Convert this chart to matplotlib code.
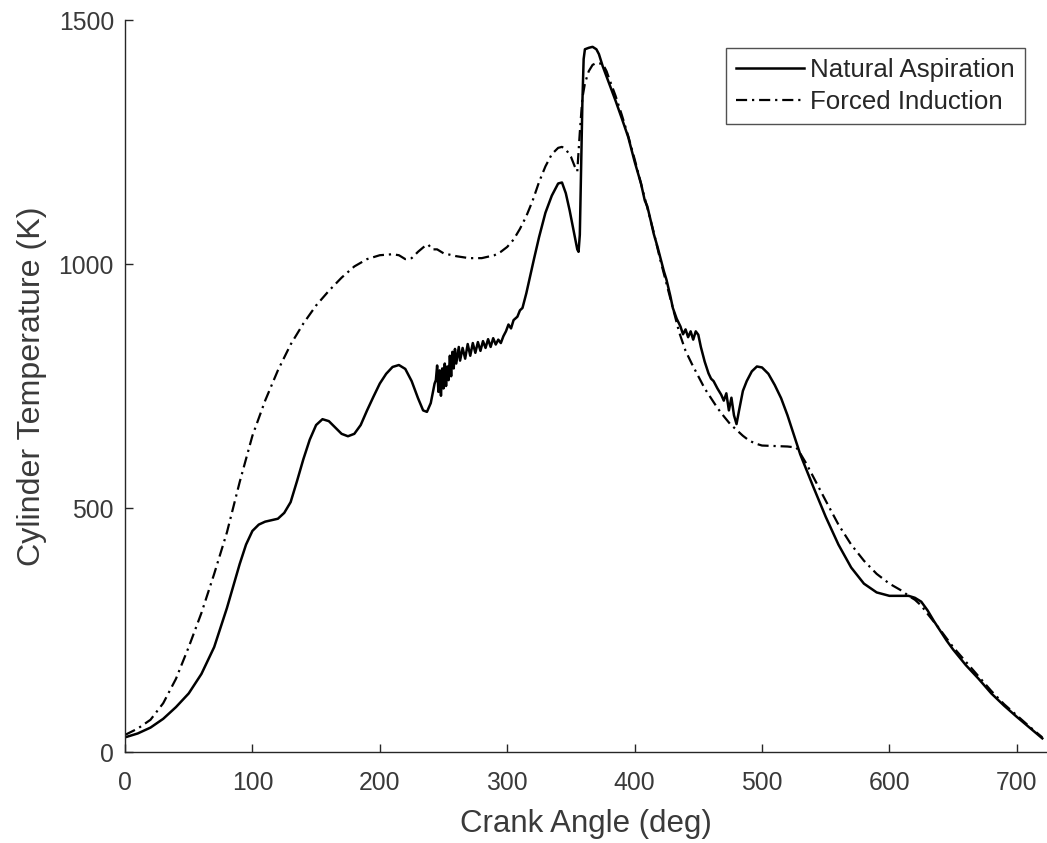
import matplotlib
matplotlib.use("Agg")
import matplotlib.pyplot as plt

# ---- data ----
crank_na = [0, 10, 20, 30, 40, 50, 60, 70, 80, 90, 95, 100, 105, 110, 115, 120, 125, 130, 135, 140,
            145, 150, 155, 160, 165, 170, 175, 180, 185, 190, 195, 200, 205, 210, 215, 220, 225, 230,
            234, 237, 240, 243,
            244, 245, 246, 247, 248, 249, 250, 251, 252, 253, 254, 255, 256, 257, 258, 259, 260,
            262, 263, 265, 267, 269, 271, 273, 275, 277, 279, 281, 283, 285, 287, 289, 291, 293,
            295, 297, 299, 301, 303, 305, 308, 310, 312, 315, 318, 321, 325, 330, 335, 340, 343,
            346, 349, 352, 355, 356, 357, 358, 359, 360, 361, 364, 367, 370, 372, 375, 380, 385,
            390, 395, 400, 405, 408, 410, 413, 415, 418, 420, 423, 425, 428, 430, 433, 436, 438,
            440, 442, 444, 446, 448, 450, 452, 455, 458, 460, 462, 465, 468, 470, 472, 474, 476,
            478, 480, 482, 485, 488, 492, 496, 500, 505, 510, 515, 520, 525, 530, 540, 550, 560,
            570, 580, 590, 600, 610, 615, 620, 625, 630, 635, 640, 645, 650, 660, 670, 680, 690,
            700, 710, 720]
temp_na = [30, 38, 50, 68, 92, 120, 160, 215, 295, 385, 425, 453, 466, 472, 475, 478, 490, 512, 555, 600,
           640, 670, 682, 678, 665, 652, 647, 652, 670, 700, 728, 755, 775, 789, 793, 785, 760, 725,
           700, 697, 715, 755,
           762, 792, 738, 782, 730, 786, 745, 796, 750, 790, 762, 812, 770, 820, 786, 826, 796,
           830, 802, 828, 806, 836, 812, 838, 818, 840, 822, 842, 828, 846, 830, 848, 835, 845,
           838, 852, 862, 876, 868, 885, 892, 905, 910, 940, 975, 1010, 1055, 1105, 1140, 1165, 1167,
           1145, 1110, 1070, 1030, 1025, 1060, 1200, 1330, 1420, 1440, 1443, 1445, 1440, 1430, 1405, 1370, 1335,
           1298, 1260, 1210, 1165, 1130, 1118, 1085, 1062, 1035, 1015, 985, 968, 935, 910, 888, 872, 856,
           866, 850, 862, 845, 862, 855, 830, 800, 776, 765, 760, 745, 732, 720, 735, 700, 726,
           690, 672, 700, 740, 760, 780, 790, 788, 775, 752, 725, 690, 650, 610, 545, 482, 425,
           378, 345, 327, 320, 320, 320, 316, 308, 290, 268, 248, 228, 210, 178, 150, 120, 95,
           72, 50, 28]

crank_fi = [0, 10, 20, 30, 40, 50, 60, 70, 80, 90, 100, 110, 120, 130, 140, 150, 160, 170, 180, 190,
            200, 210, 215, 220, 225, 230, 235, 238, 241, 245, 250, 260, 270, 280, 290, 295, 300, 305,
            310, 315, 320, 325, 330, 335, 340, 343, 346, 350, 353, 355, 357, 359, 361, 364, 367,
            370, 375, 378, 380, 385, 390, 395, 400, 405, 410, 415, 420, 425, 430, 435, 440, 445,
            450, 455, 460, 465, 470, 475, 480, 485, 490, 495, 500, 510, 520, 527, 530, 535, 540,
            550, 560, 570, 580, 590, 600, 610, 615, 620, 625, 630, 640, 650, 660, 670, 680, 690,
            700, 710, 720]
temp_fi = [35, 48, 66, 100, 150, 215, 285, 365, 450, 553, 648, 720, 782, 835, 878, 915, 945, 972, 995, 1010,
           1018, 1020, 1018, 1010, 1012, 1025, 1036, 1040, 1030, 1030, 1022, 1016, 1012, 1012, 1018, 1025, 1035, 1050,
           1072, 1098, 1130, 1168, 1200, 1225, 1238, 1240, 1235, 1220, 1200, 1190, 1270, 1340, 1370, 1395, 1408,
           1412, 1410, 1395, 1380, 1345, 1305, 1262, 1215, 1165, 1115, 1065, 1010, 960, 910, 860, 822, 795,
           770, 745, 725, 705, 688, 672, 660, 648, 638, 632, 628, 627, 626, 624, 612, 590, 565,
           515, 466, 425, 392, 365, 345, 330, 320, 312, 300, 283, 250, 215, 185, 155, 125, 98,
           75, 52, 30]

series_labels = ["Natural Aspiration", "Forced Induction"]
x_ticks = [0, 100, 200, 300, 400, 500, 600, 700]
y_ticks = [0, 500, 1000, 1500]

# ---- figure ----
plt.rcParams['font.family'] = ['Liberation Sans', 'DejaVu Sans']
txt = '#262626'
lbl = '#3a3a3a'
fig = plt.figure(figsize=(10.47, 8.43), dpi=100)
ax = fig.add_axes([125 / 1047, 91 / 843, 922 / 1047, 732 / 843])

ax.plot(crank_na, temp_na, color='black', lw=1.8, ls='-', label=series_labels[0])
ax.plot(crank_fi, temp_fi, color='black', lw=1.6, ls=(0, (5, 2.2, 1, 2.2)), label=series_labels[1])

ax.set_xlim(0, 723.7)
ax.set_ylim(0, 1500)
ax.set_xticks(x_ticks)
ax.set_yticks(y_ticks)
ax.spines['top'].set_visible(False)
ax.spines['right'].set_visible(False)
for s in ('left', 'bottom'):
    ax.spines[s].set_linewidth(1.0)
    ax.spines[s].set_color(txt)
ax.tick_params(direction='in', length=5.5, width=1.0, colors=txt, labelcolor=lbl, labelsize=17.8)
ax.tick_params(axis='x', pad=14)
ax.tick_params(axis='y', pad=8)

ax.set_xlabel("Crank Angle (deg)", fontsize=22.5, color=lbl, labelpad=10)
ax.set_ylabel("Cylinder Temperature (K)", fontsize=23.2, color=lbl, labelpad=8)

leg = ax.legend(loc='upper right', bbox_to_anchor=(1025 / 1047, (843 - 48) / 843),
                bbox_transform=fig.transFigure, borderaxespad=0, fontsize=18.6,
                frameon=True, fancybox=False, handlelength=2.6, handletextpad=0.25,
                borderpad=0.4, labelspacing=0.3)
leg.get_frame().set_edgecolor(txt)
leg.get_frame().set_linewidth(1.0)
for t in leg.get_texts():
    t.set_color(txt)

fig.savefig("out.png", dpi=100)
